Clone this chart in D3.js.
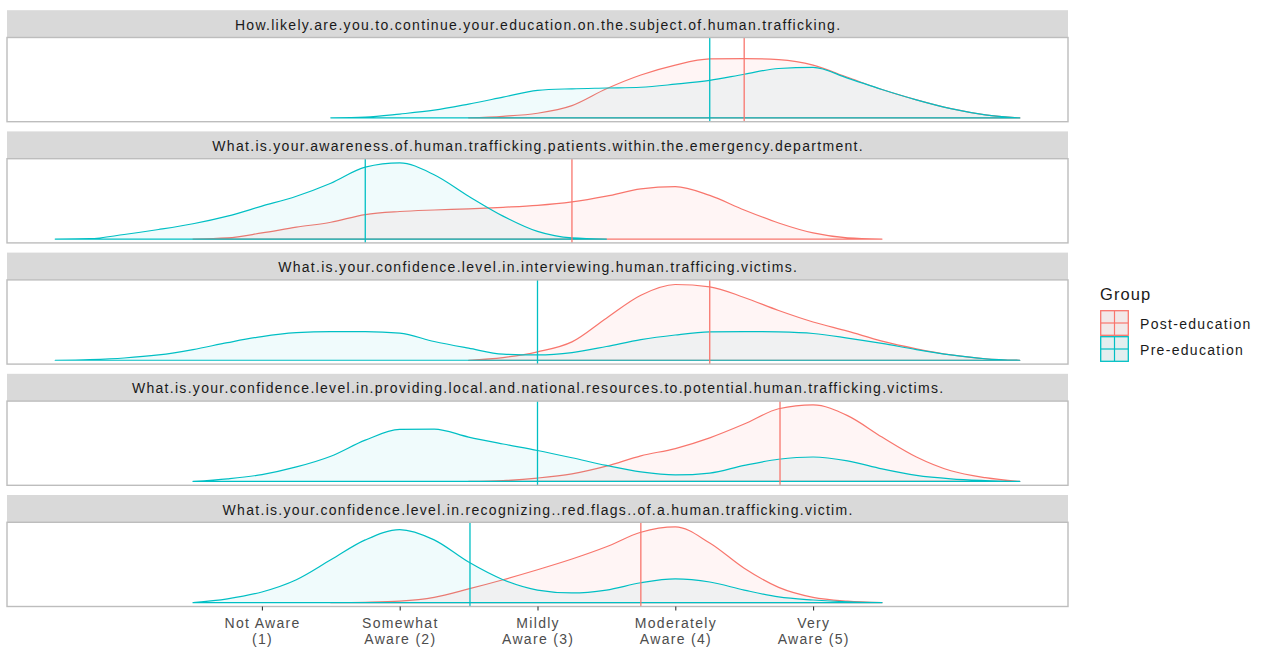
<!DOCTYPE html>
<html>
<head>
<meta charset="utf-8">
<script src="https://cdn.jsdelivr.net/npm/d3@7/dist/d3.min.js"></script>
<style>
  html, body { margin: 0; padding: 0; background: #ffffff; }
  svg { display: block; font-family: "Liberation Sans", Arial, sans-serif; }
</style>
</head>
<body>
<svg id="chart" width="1265" height="647"></svg>
<script>
// ---------------- data ----------------
const questions = [
  "How.likely.are.you.to.continue.your.education.on.the.subject.of.human.trafficking.",
  "What.is.your.awareness.of.human.trafficking.patients.within.the.emergency.department.",
  "What.is.your.confidence.level.in.interviewing.human.trafficing.victims.",
  "What.is.your.confidence.level.in.providing.local.and.national.resources.to.potential.human.trafficking.victims.",
  "What.is.your.confidence.level.in.recognizing..red.flags..of.a.human.trafficking.victim."
];
const groups = ["Post-education", "Pre-education"];
const groupColors = ["#F8766D", "#00BFC4"];
const xTickValues = [1, 2, 3, 4, 5];
const xTickLabels = [
  ["Not Aware", "(1)"],
  ["Somewhat", "Aware (2)"],
  ["Mildly", "Aware (3)"],
  ["Moderately", "Aware (4)"],
  ["Very", "Aware (5)"]
];
// density curves (relative height, shared scale), sampled every 0.25 from the start value
const sampleStep = 0.25;
const postStart = [2.5, 0.5, 2.5, 2.5, 1.5];
const preStart = [1.5, -0.5, -0.5, 0.5, 0.5];
const postDensity = [
  [0, 0.02, 0.06, 0.16, 0.38, 0.56, 0.69, 0.77, 0.775, 0.76, 0.69, 0.53, 0.37, 0.235, 0.12, 0.04, 0],
  [0, 0.015, 0.08, 0.155, 0.22, 0.32, 0.36, 0.38, 0.395, 0.415, 0.44, 0.485, 0.56, 0.655, 0.685, 0.57, 0.38, 0.21, 0.08, 0.015, 0],
  [0, 0.035, 0.11, 0.24, 0.55, 0.85, 0.99, 0.96, 0.82, 0.65, 0.50, 0.38, 0.25, 0.15, 0.07, 0.02, 0],
  [0, 0.012, 0.045, 0.10, 0.20, 0.335, 0.43, 0.57, 0.75, 0.95, 1.0, 0.86, 0.58, 0.32, 0.14, 0.05, 0],
  [0, 0.005, 0.02, 0.07, 0.18, 0.30, 0.43, 0.57, 0.73, 0.92, 0.99, 0.78, 0.45, 0.20, 0.07, 0.02, 0]
];
const preDensity = [
  [0, 0.01, 0.05, 0.10, 0.18, 0.27, 0.36, 0.38, 0.39, 0.40, 0.44, 0.49, 0.57, 0.645, 0.66, 0.52, 0.37, 0.235, 0.12, 0.04, 0],
  [0, 0.005, 0.06, 0.125, 0.20, 0.30, 0.43, 0.56, 0.73, 0.94, 0.995, 0.84, 0.56, 0.30, 0.10, 0.015, 0],
  [0, 0.01, 0.03, 0.07, 0.14, 0.23, 0.31, 0.36, 0.375, 0.375, 0.355, 0.245, 0.158, 0.08, 0.07, 0.10, 0.18, 0.27, 0.33, 0.37, 0.375, 0.37, 0.35, 0.29, 0.22, 0.14, 0.07, 0.02, 0],
  [0, 0.035, 0.09, 0.19, 0.33, 0.54, 0.68, 0.685, 0.58, 0.49, 0.405, 0.31, 0.21, 0.125, 0.085, 0.11, 0.21, 0.29, 0.32, 0.27, 0.165, 0.08, 0.035, 0.013, 0],
  [0, 0.05, 0.14, 0.30, 0.56, 0.82, 0.955, 0.82, 0.53, 0.30, 0.165, 0.127, 0.165, 0.26, 0.31, 0.27, 0.165, 0.075, 0.035, 0.01, 0]
];
const postMean = [4.50, 3.25, 4.25, 4.76, 3.75];
const preMean = [4.25, 1.75, 3.00, 3.00, 2.51];

// ---------------- layout ----------------
const svg = d3.select("#chart");
const panelLeft = 7, panelRight = 1068;
const firstPanelTop = 37.5, facetPeriod = 121.2, panelH = 84.2, stripH = 27.3;
const textSize = 14, textSpacing = 1.3;

const x = d3.scaleLinear().domain([-0.85, 6.85]).range([panelLeft, panelRight]);

questions.forEach((q, i) => {
  const top = firstPanelTop + i * facetPeriod;
  const bottom = top + panelH;
  const y = d3.scaleLinear().domain([-0.05, 1.05]).range([bottom, top]);

  // strip
  svg.append("rect")
    .attr("x", panelLeft).attr("y", top - stripH)
    .attr("width", panelRight - panelLeft).attr("height", stripH)
    .attr("fill", "#D9D9D9");
  svg.append("text")
    .attr("x", (panelLeft + panelRight) / 2 + textSpacing / 2).attr("y", top - stripH / 2 + 1)
    .attr("text-anchor", "middle").attr("dominant-baseline", "central")
    .attr("font-size", textSize).attr("letter-spacing", textSpacing).attr("fill", "#1A1A1A")
    .text(q);

  // panel background
  svg.append("rect")
    .attr("x", panelLeft).attr("y", top)
    .attr("width", panelRight - panelLeft).attr("height", panelH)
    .attr("fill", "#FFFFFF");

  const area = d3.area()
    .x(d => x(d[0]))
    .y0(y(0))
    .y1(d => y(d[1]))
    .curve(d3.curveMonotoneX);

  const series = [
    { start: postStart[i], vals: postDensity[i], color: groupColors[0], alpha: 0.07 },
    { start: preStart[i], vals: preDensity[i], color: groupColors[1], alpha: 0.06 }
  ];
  series.forEach(s => {
    const pts = s.vals.map((v, k) => [s.start + k * sampleStep, v]);
    svg.append("path")
      .attr("d", area(pts))
      .attr("fill", s.color).attr("fill-opacity", s.alpha)
      .attr("stroke", s.color).attr("stroke-width", 1.2)
      .attr("stroke-linejoin", "round");
  });

  // mean lines
  [[postMean[i], groupColors[0]], [preMean[i], groupColors[1]]].forEach(([m, c]) => {
    svg.append("line")
      .attr("x1", x(m)).attr("x2", x(m))
      .attr("y1", top).attr("y2", bottom)
      .attr("stroke", c).attr("stroke-width", 1.3);
  });

  // panel border
  svg.append("rect")
    .attr("x", panelLeft).attr("y", top)
    .attr("width", panelRight - panelLeft).attr("height", panelH)
    .attr("fill", "none").attr("stroke", "#BDBDBD").attr("stroke-width", 1.4);

  // x axis on last panel
  if (i === questions.length - 1) {
    const axisG = svg.append("g").attr("transform", `translate(0,${bottom})`);
    const axis = d3.axisBottom(x).tickValues(xTickValues).tickSize(4).tickFormat("");
    axisG.call(axis);
    axisG.select(".domain").remove();
    axisG.selectAll(".tick line").attr("stroke", "#333333").attr("stroke-width", 1.1);
    xTickValues.forEach((v, k) => {
      const t = svg.append("text")
        .attr("x", x(v) + textSpacing / 2).attr("y", bottom + 21)
        .attr("text-anchor", "middle")
        .attr("font-size", textSize).attr("letter-spacing", textSpacing).attr("fill", "#4D4D4D");
      t.append("tspan").attr("x", x(v) + textSpacing / 2).attr("dy", 0).text(xTickLabels[k][0]);
      t.append("tspan").attr("x", x(v) + textSpacing / 2).attr("dy", 16).text(xTickLabels[k][1]);
    });
  }
});

// ---------------- legend ----------------
const legX = 1100, legY = 310, keyW = 29, keyH = 26;
svg.append("text")
  .attr("x", legX).attr("y", 300)
  .attr("font-size", 16.5).attr("letter-spacing", 1.1).attr("fill", "#1A1A1A")
  .text("Group");
groups.forEach((g, k) => {
  const ky = legY + k * keyH;
  const c = groupColors[k];
  svg.append("rect").attr("x", legX).attr("y", ky).attr("width", keyW).attr("height", keyH)
    .attr("fill", "#F2F2F2");
  svg.append("rect").attr("x", legX + 0.7).attr("y", ky + 0.7).attr("width", keyW - 1.4).attr("height", keyH - 1.4)
    .attr("fill", c).attr("fill-opacity", k === 0 ? 0.07 : 0.06)
    .attr("stroke", c).attr("stroke-width", 1.3);
  svg.append("line").attr("x1", legX + keyW / 2).attr("x2", legX + keyW / 2)
    .attr("y1", ky + 1).attr("y2", ky + keyH - 1).attr("stroke", c).attr("stroke-width", 1.2);
  svg.append("line").attr("x1", legX + 1).attr("x2", legX + keyW - 1)
    .attr("y1", ky + keyH / 2).attr("y2", ky + keyH / 2).attr("stroke", c).attr("stroke-width", 1.2);
  svg.append("text")
    .attr("x", legX + keyW + 11).attr("y", ky + keyH / 2 + 1)
    .attr("dominant-baseline", "central")
    .attr("font-size", textSize).attr("letter-spacing", textSpacing).attr("fill", "#1A1A1A")
    .text(g);
});
</script>
</body>
</html>
